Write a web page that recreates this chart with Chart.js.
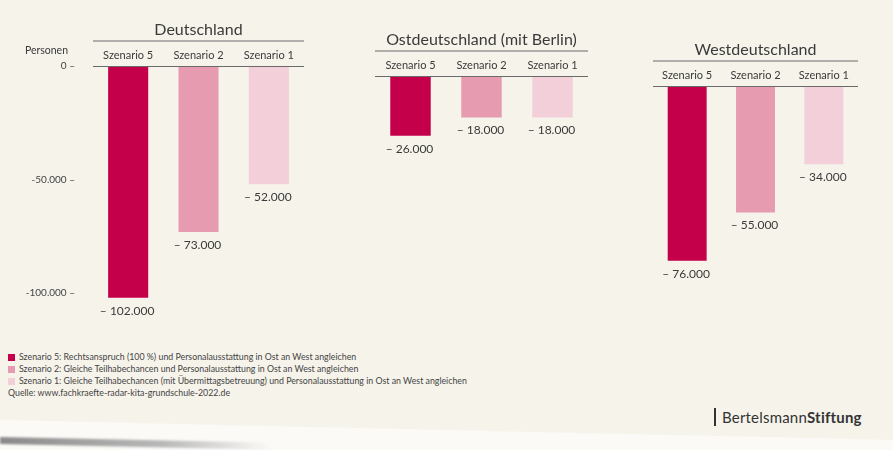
<!DOCTYPE html>
<html>
<head>
<meta charset="utf-8">
<script src="https://cdn.jsdelivr.net/npm/chart.js@4/dist/chart.umd.min.js"></script>
<style>
  html, body { margin:0; padding:0; }
  body { width:893px; height:450px; position:relative; overflow:hidden; background:#f6f3eb; font-family: Lato, "Open Sans", sans-serif; }
  .panel { position:absolute; top:0; }
  .legend { position:absolute; left:8px; top:351px; font-size:8.8px; color:#444; line-height:12px; }
  .legend .sw { display:inline-block; width:7px; height:7px; margin-right:4px; vertical-align:-1px; }
  .logo { position:absolute; left:714px; top:408px; font-size:15px; color:#333; letter-spacing:0.2px; }
  .logo .bar { display:inline-block; width:2px; height:18px; background:#333; vertical-align:-3px; margin-right:6px; }
  .paperEdge { position:absolute; left:0; top:0; width:893px; height:450px; background:#fbfaf7; clip-path: polygon(0 420px, 893px 440px, 893px 450px, 0 450px); }
  .shadow { position:absolute; left:0; top:437px; width:270px; height:7px; background:linear-gradient(to right, #8a8a8a, #b8b8b8 60%, rgba(220,220,220,0)); transform:rotate(1.2deg); transform-origin:left; filter:blur(1px); }
</style>
</head>
<body>
<div class="paperEdge"></div>
<div class="shadow"></div>
<div class="panel" id="p1" style="left:0px;width:320px;height:340px;"><canvas id="c1"></canvas></div>
<div class="panel" id="p2" style="left:360px;width:240px;height:350px;"><canvas id="c2"></canvas></div>
<div class="panel" id="p3" style="left:640px;width:240px;height:360px;"><canvas id="c3"></canvas></div>
<div class="legend" id="legend"></div>
<div class="logo"><span class="bar"></span>Bertelsmann<b>Stiftung</b></div>
<script>
const categories = ["Szenario 5", "Szenario 2", "Szenario 1"];
const regions = ["Deutschland", "Ostdeutschland (mit Berlin)", "Westdeutschland"];
const deutschland = [-102000, -73000, -52000];
const ostdeutschland = [-26000, -18000, -18000];
const westdeutschland = [-76000, -55000, -34000];
const yTicks = [0, -50000, -100000];
const yAxisTitle = "Personen";
const barColors = ["#c5004a", "#e79bb1", "#f2cfd9"];
const legendLabels = [
  "Szenario 5: Rechtsanspruch (100 %) und Personalausstattung in Ost an West angleichen",
  "Szenario 2: Gleiche Teilhabechancen und Personalausstattung in Ost an West angleichen",
  "Szenario 1: Gleiche Teilhabechancen (mit Übermittagsbetreuung) und Personalausstattung in Ost an West angleichen"
];
const sourceText = "Quelle: www.fachkraefte-radar-kita-grundschule-2022.de";

function fmt(v) {
  return String(Math.abs(v)).replace(/\B(?=(\d{3})+(?!\d))/g, ".");
}

const panelPlugin = {
  id: 'panel',
  afterDraw(chart, args, opts) {
    const ctx = chart.ctx;
    const { left, right, top } = chart.chartArea;
    const xs = chart.scales.x;
    ctx.save();
    ctx.fillStyle = '#3a3a3a';
    ctx.textAlign = 'center';
    ctx.textBaseline = 'middle';
    ctx.font = '16px Lato';
    ctx.fillText(opts.title, (left + right) / 2, top - 36);
    ctx.strokeStyle = '#6a6a6a';
    ctx.lineWidth = 1.2;
    ctx.beginPath();
    ctx.moveTo(left, top - 25); ctx.lineTo(right, top - 25);
    ctx.moveTo(left, top + 0.5); ctx.lineTo(right, top + 0.5);
    ctx.stroke();
    ctx.font = '11px Lato';
    categories.forEach((c, i) => ctx.fillText(c, xs.getPixelForValue(i), top - 11));
    const meta = chart.getDatasetMeta(0);
    ctx.font = '12px Lato';
    meta.data.forEach((bar, i) => {
      const v = chart.data.datasets[0].data[i];
      ctx.fillText('\u2013 ' + fmt(v), bar.x - 1, bar.y + 13);
    });
    if (opts.axisTitle) {
      ctx.textAlign = 'right';
      ctx.font = '10.5px Lato';
      ctx.fillText(opts.axisTitle, left - 25, top - 15);
    }
    ctx.restore();
  }
};

function makeChart(id, data, title, pad, showAxis) {
  return new Chart(document.getElementById(id), {
    type: 'bar',
    data: {
      labels: categories,
      datasets: [{ data: data, backgroundColor: barColors, borderWidth: 0, barPercentage: 0.57, categoryPercentage: 1.0 }]
    },
    options: {
      responsive: true,
      maintainAspectRatio: false,
      devicePixelRatio: 1,
      animation: false,
      layout: { padding: pad },
      plugins: {
        legend: { display: false },
        tooltip: { enabled: false },
        panel: { title: title, axisTitle: showAxis ? yAxisTitle : null }
      },
      scales: {
        x: { display: false },
        y: {
          display: showAxis,
          min: -110000,
          max: 0,
          afterBuildTicks: (s) => { s.ticks = yTicks.map(v => ({ value: v })); },
          afterFit: (s) => { if (showAxis) s.width = 93; },
          grid: { display: false, drawTicks: false },
          border: { display: false },
          ticks: {
            padding: 18,
            color: '#444',
            font: { family: 'Lato', size: 10 },
            callback: (v) => (v < 0 ? '-' : '') + fmt(v) + ' \u2013'
          }
        }
      }
    },
    plugins: [panelPlugin]
  });
}

makeChart('c1', deutschland, regions[0], { left: 0, right: 16, top: 66, bottom: 21 }, true);
makeChart('c2', ostdeutschland, regions[1], { left: 15, right: 12, top: 76, bottom: 21 }, false);
makeChart('c3', westdeutschland, regions[2], { left: 13, right: 22, top: 86, bottom: 21 }, false);

const lg = document.getElementById('legend');
legendLabels.forEach((t, i) => {
  const d = document.createElement('div');
  d.innerHTML = '<span class="sw" style="background:' + barColors[i] + '"></span>' + t;
  lg.appendChild(d);
});
const src = document.createElement('div');
src.textContent = sourceText;
lg.appendChild(src);
</script>
</body>
</html>
